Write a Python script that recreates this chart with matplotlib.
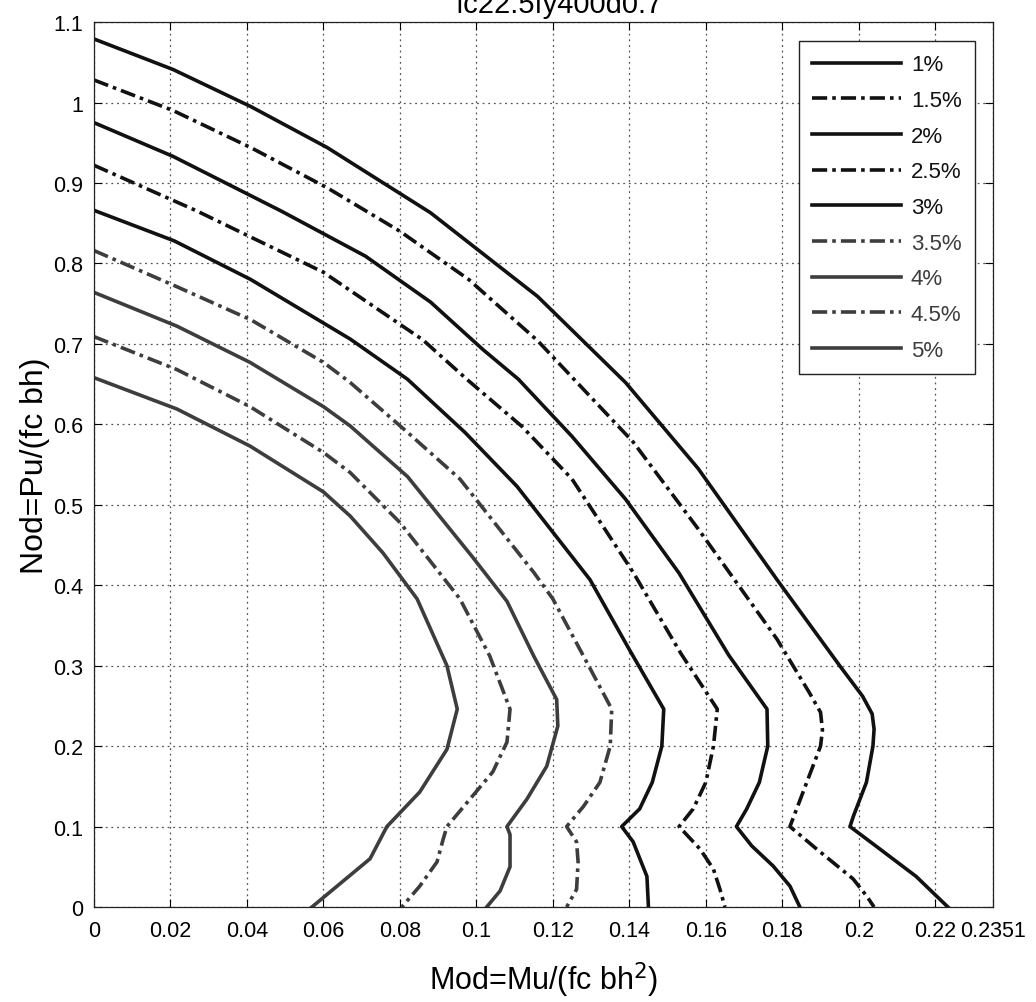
import matplotlib
matplotlib.use('Agg')
import matplotlib.pyplot as plt

plt.rcParams['font.family'] = ['Liberation Sans', 'DejaVu Sans']

# data (Mod, Nod) for each curve
m1 = [0, 0.0207, 0.041, 0.061, 0.088, 0.116, 0.139, 0.158, 0.1786, 0.195, 0.201, 0.2035, 0.2040, 0.2037, 0.2020, 0.1986, 0.1977, 0.2047, 0.2150, 0.2233]
n1 = [1.079, 1.041, 0.995, 0.944, 0.863, 0.759, 0.652, 0.545, 0.407, 0.300, 0.262, 0.240, 0.221, 0.200, 0.155, 0.113, 0.100, 0.075, 0.038, 0.0]

m2 = [0, 0.0207, 0.041, 0.061, 0.080, 0.098, 0.116, 0.141, 0.158, 0.1786, 0.187, 0.1900, 0.1905, 0.1900, 0.1860, 0.1820, 0.1890, 0.1985, 0.2020, 0.2040]
n2 = [1.028, 0.990, 0.944, 0.894, 0.840, 0.780, 0.704, 0.578, 0.470, 0.333, 0.267, 0.242, 0.220, 0.200, 0.150, 0.100, 0.072, 0.035, 0.014, 0.0]

m3 = [0, 0.0207, 0.049, 0.071, 0.088, 0.1017, 0.111, 0.125, 0.139, 0.153, 0.166, 0.1760, 0.1762, 0.1740, 0.1707, 0.1680, 0.1720, 0.1776, 0.1820, 0.1846]
n3 = [0.975, 0.933, 0.865, 0.809, 0.752, 0.693, 0.656, 0.585, 0.507, 0.415, 0.313, 0.246, 0.200, 0.155, 0.122, 0.100, 0.076, 0.051, 0.026, 0.0]

m4 = [0, 0.027, 0.060, 0.086, 0.0975, 0.112, 0.125, 0.141, 0.1535, 0.163, 0.1620, 0.1600, 0.1567, 0.1530, 0.1585, 0.1620, 0.1637, 0.1650]
n4 = [0.922, 0.865, 0.789, 0.705, 0.656, 0.597, 0.532, 0.416, 0.315, 0.246, 0.200, 0.155, 0.122, 0.100, 0.072, 0.047, 0.022, 0.0]

m5 = [0, 0.021, 0.041, 0.067, 0.082, 0.097, 0.1106, 0.1297, 0.1400, 0.1490, 0.1485, 0.1460, 0.1427, 0.1380, 0.1410, 0.1446, 0.1450]
n5 = [0.866, 0.828, 0.780, 0.706, 0.656, 0.590, 0.523, 0.407, 0.320, 0.246, 0.200, 0.155, 0.122, 0.100, 0.081, 0.038, 0.0]

m6 = [0, 0.0217, 0.041, 0.060, 0.067, 0.082, 0.0957, 0.115, 0.120, 0.128, 0.1354, 0.1350, 0.1323, 0.1280, 0.1236, 0.1262, 0.1266, 0.1262, 0.1236]
n6 = [0.816, 0.771, 0.730, 0.677, 0.652, 0.590, 0.532, 0.416, 0.383, 0.312, 0.246, 0.200, 0.155, 0.125, 0.100, 0.081, 0.056, 0.022, 0.0]

m7 = [0, 0.0217, 0.0408, 0.060, 0.067, 0.082, 0.099, 0.108, 0.115, 0.121, 0.1213, 0.1184, 0.1132, 0.1080, 0.1088, 0.1088, 0.1062, 0.1027]
n7 = [0.764, 0.722, 0.677, 0.622, 0.598, 0.535, 0.435, 0.380, 0.312, 0.258, 0.225, 0.175, 0.134, 0.100, 0.090, 0.050, 0.020, 0.0]

m8 = [0, 0.0217, 0.0408, 0.060, 0.067, 0.080, 0.0957, 0.1035, 0.1088, 0.1080, 0.1043, 0.0923, 0.0913, 0.0897, 0.0852, 0.0805]
n8 = [0.709, 0.668, 0.622, 0.565, 0.540, 0.478, 0.383, 0.312, 0.246, 0.205, 0.168, 0.100, 0.084, 0.056, 0.026, 0.0]

m9 = [0, 0.0217, 0.0408, 0.060, 0.067, 0.0756, 0.0845, 0.0923, 0.0950, 0.0923, 0.0852, 0.0766, 0.0722, 0.0570]
n9 = [0.658, 0.619, 0.573, 0.516, 0.486, 0.440, 0.383, 0.300, 0.246, 0.196, 0.143, 0.100, 0.060, 0.0]

labels = ['1%', '1.5%', '2%', '2.5%', '3%', '3.5%', '4%', '4.5%', '5%']
xticks = [0, 0.02, 0.04, 0.06, 0.08, 0.1, 0.12, 0.14, 0.16, 0.18, 0.2, 0.22, 0.2351]
xtick_labels = ['0', '0.02', '0.04', '0.06', '0.08', '0.1', '0.12', '0.14', '0.16', '0.18', '0.2', '0.22', '0.2351']
yticks = [0, 0.1, 0.2, 0.3, 0.4, 0.5, 0.6, 0.7, 0.8, 0.9, 1.0, 1.1]
ytick_labels = ['0', '0.1', '0.2', '0.3', '0.4', '0.5', '0.6', '0.7', '0.8', '0.9', '1', '1.1']

mods = [m1, m2, m3, m4, m5, m6, m7, m8, m9]
nods = [n1, n2, n3, n4, n5, n6, n7, n8, n9]

black = '#111111'
gray = '#3d3d3d'
dashdot = (0, (4.2, 1.4, 1.0, 1.4))

fig = plt.figure(figsize=(10.36, 10.03), dpi=100)
ax = fig.add_axes([0.0907, 0.0947, 0.8678, 0.8823])

for i in range(9):
    col = black if i < 5 else gray
    ls = '-' if i % 2 == 0 else dashdot
    ax.plot(mods[i], nods[i], color=col, lw=2.6, linestyle=ls, label=labels[i])

ax.set_xlim(0, 0.2351)
ax.set_ylim(0, 1.1)
ax.set_xticks(xticks)
ax.set_xticklabels(xtick_labels)
ax.set_yticks(yticks)
ax.set_yticklabels(ytick_labels)
ax.tick_params(direction='in', length=6, labelsize=15.5, top=True, right=True)
ax.tick_params(axis='x', pad=9)
ax.tick_params(axis='y', pad=8)
ax.grid(True, color='#555555', linestyle=(0, (1.5, 3)), lw=0.9)
for s in ax.spines.values():
    s.set_linewidth(0.9)
    s.set_color('#222222')

ax.set_xlabel('Mod=Mu/(fc bh$^2$)', fontsize=22, labelpad=14)
ax.set_ylabel('Nod=Pu/(fc bh)', fontsize=23, labelpad=2)

# title sits mostly above the top edge in the scan
fig.text(0.54, 1 - 13 / 1003, 'fc22.5fy400d0.7', ha='center', va='baseline', fontsize=21)

leg = ax.legend(loc='upper right', bbox_to_anchor=(0.941, 0.958), bbox_transform=fig.transFigure,
                borderaxespad=0, fontsize=16, handlelength=4.0, handletextpad=0.45,
                labelspacing=0.66, fancybox=False, framealpha=1, edgecolor='#222222',
                borderpad=0.6)
leg.get_frame().set_linewidth(1.0)
for i, t in enumerate(leg.get_texts()):
    t.set_color(black if i < 5 else gray)

fig.savefig('out.png', dpi=100)
